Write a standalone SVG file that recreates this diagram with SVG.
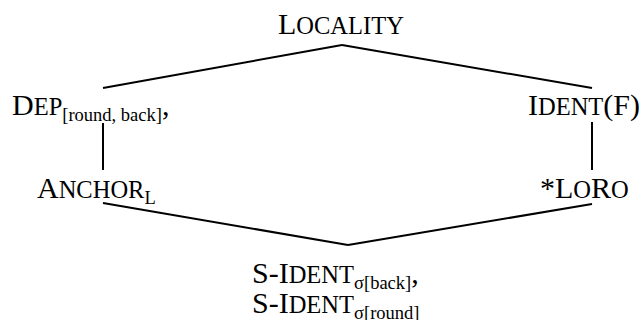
<svg xmlns="http://www.w3.org/2000/svg" width="642" height="320" viewBox="0 0 642 320">
<style>
.t{font-family:'Liberation Serif','Times New Roman',Times,serif;font-size:30px;fill:#000}
.sc{font-size:24.5px}
.sub{font-size:18.5px}
line{stroke:#000;stroke-width:2;fill:none}
</style>
<rect width="642" height="320" fill="#fff"/>
<g id="connectors">
<line x1="103" y1="88" x2="342" y2="45"/>
<line x1="342" y1="45" x2="592" y2="88"/>
<line x1="103" y1="123" x2="103" y2="170"/>
<line x1="592" y1="122" x2="592" y2="170"/>
<line x1="103" y1="203" x2="348" y2="245"/>
<line x1="348" y1="245" x2="592" y2="204"/>
</g>
<g id="locality"><text class="t" x="278" y="34">L<tspan class="sc">OCALITY</tspan></text></g>
<g id="dep"><text class="t" x="12" y="115">D<tspan class="sc">EP</tspan><tspan class="sub" dy="6">[round, back]</tspan><tspan dy="-6">,</tspan></text></g>
<g id="ident-f"><text class="t" x="528" y="115">I<tspan class="sc">DENT</tspan>(F)</text></g>
<g id="anchor"><text class="t" x="37" y="198">A<tspan class="sc">NCHOR</tspan><tspan class="sub" dy="6">L</tspan></text></g>
<g id="loro"><text class="t" x="540" y="198">*L<tspan class="sc">O</tspan>R<tspan class="sc">O</tspan></text></g>
<g id="s-ident"><text class="t" x="252" y="283">S-I<tspan class="sc">DENT</tspan><tspan class="sub" dy="6">σ[back]</tspan><tspan dy="-6">,</tspan></text>
<text class="t" x="252" y="313">S-I<tspan class="sc">DENT</tspan><tspan class="sub" dy="6">σ[round]</tspan></text></g>
</svg>
